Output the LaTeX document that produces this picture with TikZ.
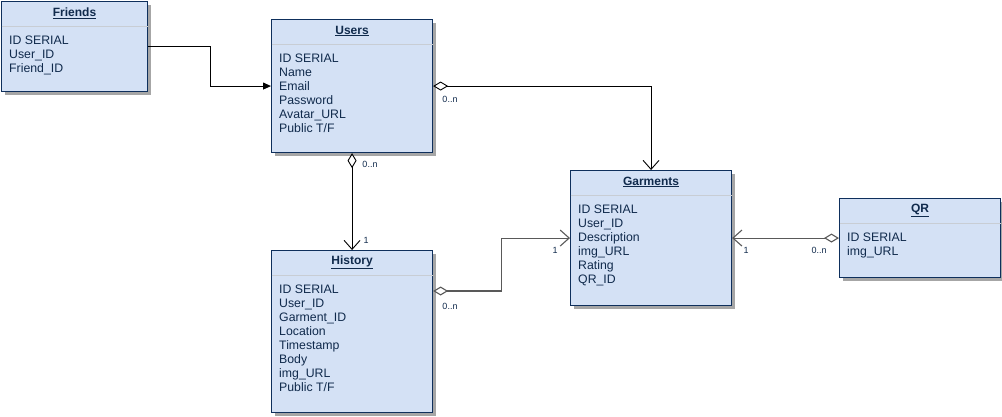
\documentclass[tikz,border=0pt]{standalone}
\usepackage{fontspec}
\setmainfont{Liberation Sans}
\usetikzlibrary{arrows.meta,calc,shadows}
\definecolor{boxfill}{HTML}{D4E1F5}
\definecolor{boxline}{HTML}{0E2F5C}
\definecolor{txt}{HTML}{102A4C}
\definecolor{sepc}{HTML}{C8CDD4}
\tikzset{
  entity/.style={draw=boxline, line width=1.1pt, fill=boxfill, anchor=north west,
    drop shadow={shadow xshift=3pt, shadow yshift=-3pt, fill=black!35, opacity=1}},
  ttl/.style={font=\fontsize{12}{14}\selectfont\bfseries, text=txt},
  body/.style={font=\fontsize{12.3}{14}\selectfont, text=txt, align=left, anchor=north west, inner sep=0pt},
  sep/.style={draw=sepc, line width=1pt},
  conn/.style={draw=black, line width=0.9pt},
  conng/.style={draw=black!65, line width=1.1pt},
  lbl/.style={font=\fontsize{9}{10}\selectfont, text=txt, inner sep=0pt},
  mydia/.tip={Diamond[open, length=15pt, width=9pt]},
  myvee/.tip={Straight Barb[length=9pt, width=16pt]},
  myfil/.tip={Triangle[length=8pt, width=7pt]}
}
\newcommand{\entitybox}[7]{% name, x, y, w, h, title, body
  \node[entity, minimum width=#4pt, minimum height=#5pt, inner sep=0pt] (#1) at (#2,#3) {};
  \draw[sep] ($(#1.north west)+(0.6,-25)$) -- ($(#1.north east)+(-0.6,-25)$);
  \node[ttl] (#1-t) at ($(#1.north)+(0,-12)$) {\underline{#6}};
  \node[body] (#1-b) at ($(#1.north west)+(8,-34.5)$) {#7};
}
\begin{document}
\begin{tikzpicture}[x=1pt,y=1pt]
\useasboundingbox (0,0) rectangle (1002,-416);
\entitybox{friends}{1}{-1}{146}{90}{Friends}{ID SERIAL\\User\_ID\\Friend\_ID}
\entitybox{users}{271}{-19}{161}{133}{Users}{ID SERIAL\\Name\\Email\\Password\\Avatar\_URL\\Public T/F}
\entitybox{history}{271}{-250}{161}{162}{History}{ID SERIAL\\User\_ID\\Garment\_ID\\Location\\Timestamp\\Body\\img\_URL\\Public T/F}
\entitybox{garments}{570}{-170}{161}{135}{Garments}{ID SERIAL\\User\_ID\\Description\\img\_URL\\Rating\\QR\_ID}
\entitybox{qr}{839}{-198}{161}{79}{QR}{ID SERIAL\\img\_URL}

% Friends -> Users
\draw[conn, -{myfil}] (friends.east) -- ++(62,0) |- (users.west);
% Users -> Garments
\draw[conn, {mydia}-{myvee}] (users.east) -| (garments.north);
\node[lbl] (l1) at (450,-99) {0..n};
% Users -> History
\draw[conn, {mydia}-{myvee}] (users.south) -- (history.north);
\node[lbl] (l2) at (370,-164) {0..n};
\node[lbl] (l3) at (366,-240) {1};
% History -> Garments
\coordinate (hp) at ($(history.north east)+(0,-41)$);
\draw[conng, {mydia}-{myvee}] (hp) -- ++(68,0) |- (garments.west);
\node[lbl] (l4) at (450,-306) {0..n};
\node[lbl] (l5) at (555,-250) {1};
% QR -> Garments
\draw[conng, {mydia}-{myvee}] (qr.west) -- (garments.east);
\node[lbl] (l6) at (746,-250) {1};
\node[lbl] (l7) at (819,-250) {0..n};
\end{tikzpicture}
\end{document}
